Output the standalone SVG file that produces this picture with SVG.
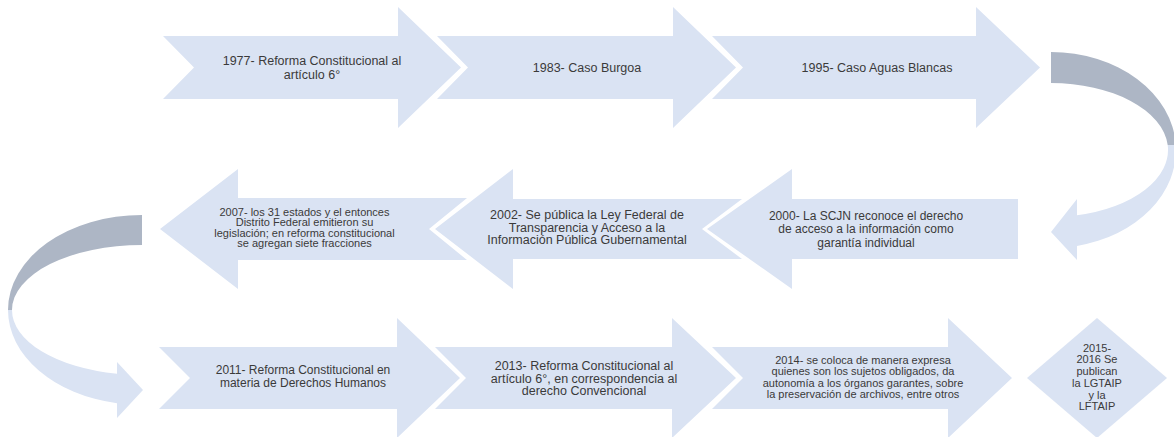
<svg xmlns="http://www.w3.org/2000/svg" width="1174" height="437" viewBox="0 0 1174 437">
<style>
.a{fill:#DAE3F3}
.d{fill:#ADB6C5}
text{font-family:"Liberation Sans",Arial,sans-serif;fill:#3A3A3A;text-anchor:middle}
.f125{font-size:12.5px}
.f12{font-size:12px}
.f11{font-size:11px}
</style>
<rect width="1174" height="437" fill="#FFFFFF"/>
<g id="connectors">
<path class="d" d="M1051,52 A125,98 0 0 1 1175.8,145 L1167.7,145 A117,67 0 0 0 1051,83 Z"/>
<path class="a" d="M1175.8,145 A125,98 0 0 1 1077,245.9 L1077,260 L1051,232 L1077,199 L1077,215.3 A117,67 0 0 0 1167.7,145 Z"/>
<path class="d" d="M142,215 A134,95 0 0 0 8,310 L12,310 A130,65 0 0 1 142,245 Z"/>
<path class="a" d="M8,310 A134,95 0 0 0 117,403.3 L117,418 L143,390 L117,362 L117,373.8 A130,65 0 0 1 12,310 Z"/>
</g>
<g id="n1977">
<path class="a" d="M163,36 L398,36 L398,7 L461,67.5 L398,128 L398,99 L163,99 L194,67.5 Z"/>
<text class="f125" x="312" y="65">1977- Reforma Constitucional al</text>
<text class="f125" x="312" y="78.5">artículo 6°</text>
</g>
<g id="n1983">
<path class="a" d="M437,36 L673,36 L673,7 L736,67.5 L673,128 L673,99 L437,99 L468,67.5 Z"/>
<text class="f125" x="587" y="71.5">1983- Caso Burgoa</text>
</g>
<g id="n1995">
<path class="a" d="M712,36 L976,36 L976,7 L1040,67.5 L976,128 L976,99 L712,99 L743,67.5 Z"/>
<text class="f125" x="877" y="71.5">1995- Caso Aguas Blancas</text>
</g>
<g id="n2000">
<path class="a" d="M707,229 L792,169 L792,199 L1018,199 L1018,259 L792,259 L792,289 Z"/>
<text class="f12" x="866" y="220">2000- La SCJN reconoce el derecho</text>
<text class="f12" x="866" y="233.3">de acceso a la información como</text>
<text class="f12" x="866" y="246.6">garantía individual</text>
</g>
<g id="n2002">
<path class="a" d="M435,229 L513,169 L513,199 L742,199 L702,229 L742,259 L513,259 L513,289 Z"/>
<text class="f125" x="587" y="219.3">2002- Se pública la Ley Federal de</text>
<text class="f125" x="587" y="231.8">Transparencia y Acceso a la</text>
<text class="f125" x="587" y="244.3">Información Pública Gubernamental</text>
</g>
<g id="n2007">
<path class="a" d="M160,229 L238,169 L238,198 L467,198 L429,229 L467,260 L238,260 L238,289 Z"/>
<text class="f11" x="304.5" y="215.5">2007-  los 31 estados y el entonces</text>
<text class="f11" x="304.5" y="226">Distrito Federal emitieron su</text>
<text class="f11" x="304.5" y="236.5">legislación; en reforma constitucional</text>
<text class="f11" x="304.5" y="247">se agregan siete fracciones</text>
</g>
<g id="n2011">
<path class="a" d="M159,347 L397,347 L397,318 L460,378 L397,438 L397,409 L159,409 L190,378 Z"/>
<text class="f12" x="303" y="373.5">2011- Reforma Constitucional en</text>
<text class="f12" x="303" y="386.5">materia de Derechos Humanos</text>
</g>
<g id="n2013">
<path class="a" d="M435,347 L672,347 L672,318 L736,378 L672,438 L672,409 L435,409 L466,378 Z"/>
<text class="f125" x="584" y="370">2013- Reforma Constitucional al</text>
<text class="f125" x="584" y="382.5">artículo 6°, en correspondencia al</text>
<text class="f125" x="584" y="395">derecho Convencional</text>
</g>
<g id="n2014">
<path class="a" d="M712,347 L948,347 L948,318 L1012,378 L948,438 L948,409 L712,409 L743,378 Z"/>
<text class="f11" x="863" y="364">2014- se coloca de manera expresa</text>
<text class="f11" x="863" y="375.4">quienes son los sujetos obligados, da</text>
<text class="f11" x="863" y="386.8">autonomía a los órganos garantes, sobre</text>
<text class="f11" x="863" y="398.2">la preservación de archivos, entre otros</text>
</g>
<g id="n2015">
<path class="a" d="M1097,318 L1167,378 L1097,438 L1027,378 Z"/>
<text class="f11" x="1097" y="351.7">2015-</text>
<text class="f11" x="1097" y="363.4">2016 Se</text>
<text class="f11" x="1097" y="375.1">publican</text>
<text class="f11" x="1097" y="386.8">la LGTAIP</text>
<text class="f11" x="1097" y="398.5">y la</text>
<text class="f11" x="1097" y="410.2">LFTAIP</text>
</g>
</svg>
